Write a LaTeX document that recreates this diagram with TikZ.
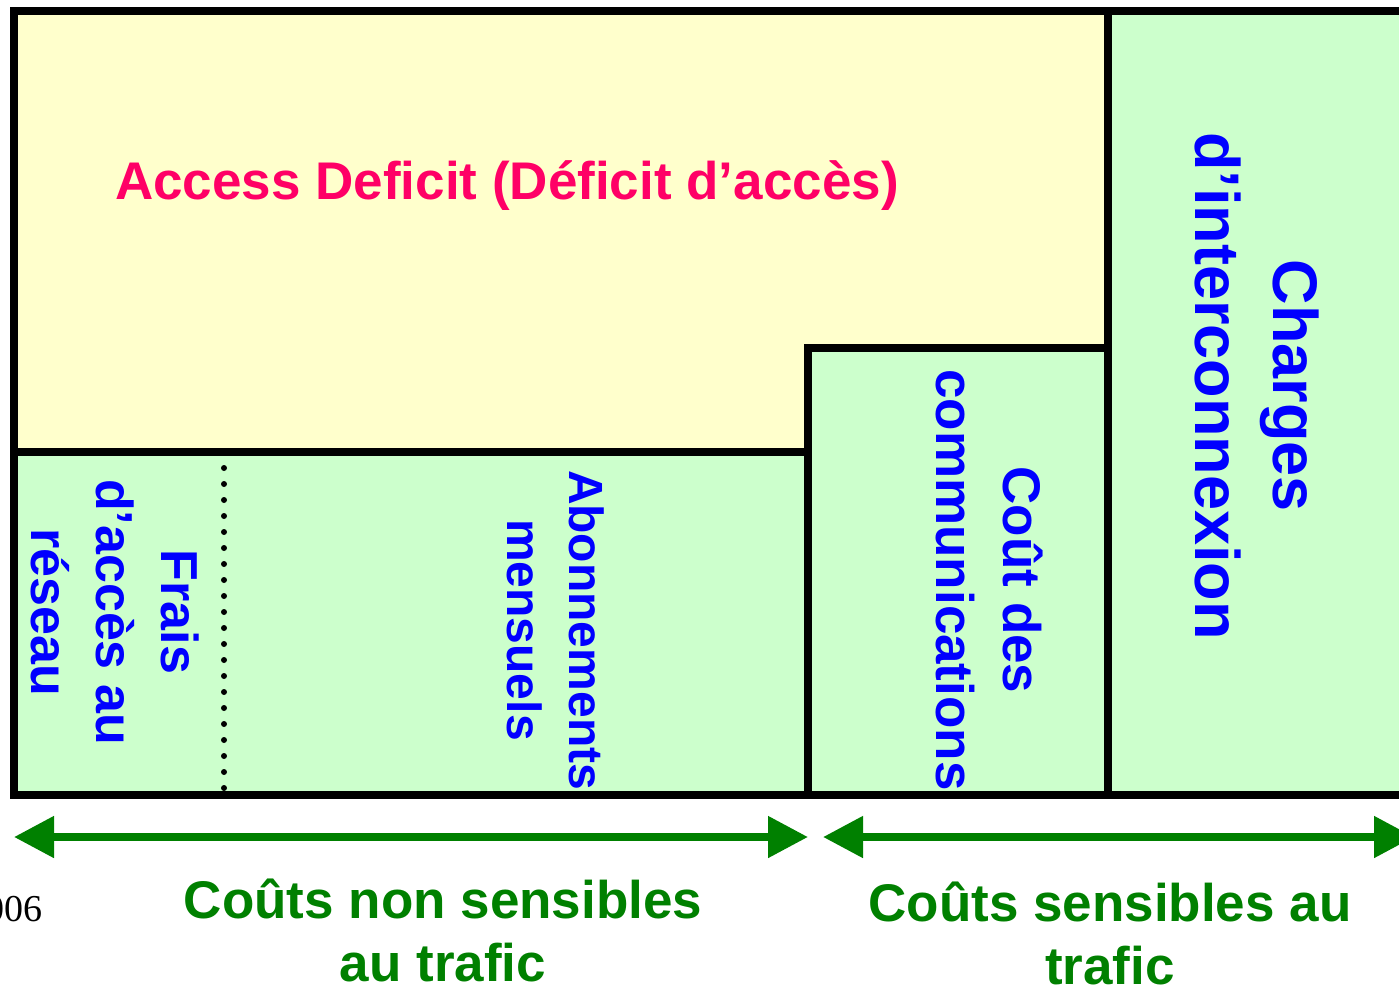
\documentclass[tikz,border=0pt]{standalone}
\usepackage{fontspec}
\setmainfont{Liberation Sans}
\newfontfamily\timesfont{Liberation Serif}
\usetikzlibrary{arrows.meta}
\definecolor{paleyellow}{HTML}{FFFFCC}
\definecolor{palegreen}{HTML}{CCFFCC}
\definecolor{deficitpink}{HTML}{FF0066}
\definecolor{labelblue}{HTML}{0000FF}
\definecolor{costgreen}{HTML}{008000}
\begin{document}
\begin{tikzpicture}[x=1pt,y=-1pt,
  frame/.style={line width=8pt, line join=miter, line cap=rect},
  bluelabel/.style 2 args={text=labelblue, font=\bfseries\fontsize{#1}{#2}\selectfont,
    align=center, rotate=-90, inner sep=0pt},
  greenlabel/.style={text=costgreen, font=\bfseries\fontsize{53}{63}\selectfont,
    align=center, inner sep=0pt},
  span/.style={draw=costgreen, line width=8pt,
    {Triangle[length=40pt,width=40pt]}-{Triangle[length=40pt,width=40pt]}},
  dots/.style={line width=6pt, line cap=round, dash pattern=on 0pt off 16pt}]
\useasboundingbox (0,0) rectangle (1399,986);
\clip (0,0) rectangle (1399,986);
% fills
\fill[paleyellow] (14,11) rectangle (1108,452);
\fill[palegreen] (14,452) rectangle (808,795);
\fill[palegreen] (808,348) rectangle (1108,795);
\fill[palegreen] (1108,11) rectangle (1430,795);
% frame lines
\draw[frame] (1430,11) -- (14,11) -- (14,795) -- (1430,795);
\draw[frame] (14,452) -- (808,452);
\draw[frame] (808,795) -- (808,348) -- (1108,348);
\draw[frame] (1108,11) -- (1108,795);
\draw[dots] (224,468) -- (224,790);
% labels
\node[text=deficitpink, font=\bfseries\fontsize{53}{63}\selectfont, inner sep=0pt, anchor=base]
  (deficit) at (507,199) {Access Deficit (Déficit d’accès)};
\node[bluelabel={63}{78}] (interco) at (1257,386) {Charges\\d’interconnexion};
\node[bluelabel={53}{67}] (comm) at (990,580) {Coût des\\communications};
\node[bluelabel={48}{62}] (abo) at (556,630) {Abonnements\\mensuels};
\node[bluelabel={52}{65}] (frais) at (115,612) {Frais\\d’accès au\\réseau};
% arrows
\coordinate (a1l) at (14,837);
\coordinate (a1r) at (808,837);
\coordinate (a2l) at (823,837);
\coordinate (a2r) at (1414,837);
\draw[span] (a1l) -- (a1r);
\draw[span] (a2l) -- (a2r);
\node[greenlabel] (nonsens) at (443,930) {Coûts non sensibles\\au trafic};
\node[greenlabel] (sens) at (1110,933) {Coûts sensibles au\\trafic};
\node[font=\timesfont\fontsize{38}{44}\selectfont, inner sep=0pt, anchor=base east] (year) at (43,921) {006};
\end{tikzpicture}
\end{document}
